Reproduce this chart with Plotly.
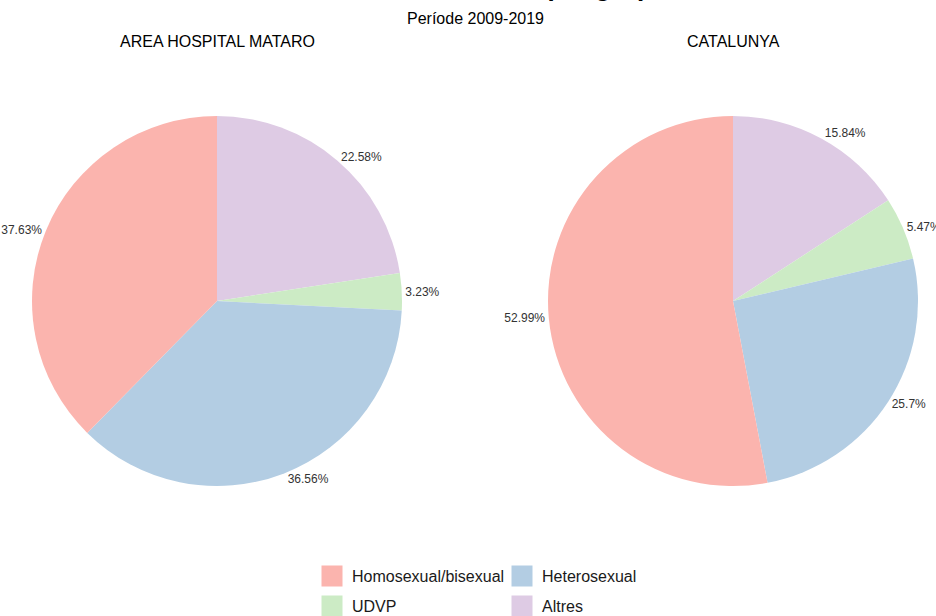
import plotly.graph_objects as go

# ---- data ----
categories = ["Homosexual/bisexual", "Heterosexual", "UDVP", "Altres"]
colors = ["#FBB4AE", "#B3CDE3", "#CCEBC5", "#DECBE4"]
mataro_values = [37.63, 36.56, 3.23, 22.58]
catalunya_values = [52.99, 25.7, 5.47, 15.84]
panel_titles = ["AREA HOSPITAL MATARO", "CATALUNYA"]
main_title = "Casos de VIH per grup de transmissió"
subtitle = "Període 2009-2019"

W, H = 936, 616
FONT = "Liberation Sans, Arial, sans-serif"


def fx(x):
    return x / W


def fy(y):
    return 1 - y / H


def fmt(v):
    s = f"{v:.2f}".rstrip("0").rstrip(".")
    return s + "%"


fig = go.Figure()

domains = [
    dict(x=[fx(32), fx(402)], y=[fy(486), fy(116)]),
    dict(x=[fx(548), fx(918)], y=[fy(486), fy(116)]),
]

for vals, dom in zip([mataro_values, catalunya_values], domains):
    fig.add_trace(go.Pie(
        labels=categories[::-1],
        values=vals[::-1],
        text=[fmt(v) for v in vals[::-1]],
        textinfo="text",
        textposition="outside",
        outsidetextfont=dict(size=12, color="#333333", family=FONT),
        marker=dict(colors=colors[::-1], line=dict(width=0)),
        sort=False,
        direction="clockwise",
        rotation=0,
        domain=dom,
        showlegend=False,
        hoverinfo="label+percent",
    ))

# legend entries (two rows, two columns)
legend_of = ["legend", "legend", "legend2", "legend2"]
for cat, col, lg in zip(categories, colors, legend_of):
    fig.add_trace(go.Scatter(
        x=[None], y=[None], mode="markers", name=cat,
        marker=dict(symbol="square", size=16, color=col, line=dict(color=col, width=5)),
        legend=lg, showlegend=True,
    ))

leg_common = dict(
    orientation="h", xanchor="left", yanchor="middle",
    x=fx(312), entrywidth=145, entrywidthmode="pixels",
    font=dict(size=16, color="#1a1a1a", family=FONT),
    bgcolor="rgba(0,0,0,0)", borderwidth=0,
)

fig.update_layout(
    width=W, height=H,
    margin=dict(l=0, r=0, t=0, b=0, autoexpand=False),
    paper_bgcolor="white", plot_bgcolor="white",
    font=dict(family=FONT, color="black"),
    xaxis=dict(visible=False), yaxis=dict(visible=False),
    legend=dict(y=fy(576), **leg_common),
    legend2=dict(y=fy(606), **leg_common),
    annotations=[
        dict(text="<b>" + main_title + "</b>", x=fx(372), y=fy(3.5), xref="paper", yref="paper",
             xanchor="left", yanchor="bottom", showarrow=False,
             font=dict(size=26, color="black", family=FONT)),
        dict(text=subtitle, x=fx(475), y=fy(18), xref="paper", yref="paper",
             xanchor="center", yanchor="middle", showarrow=False,
             font=dict(size=16, color="black", family=FONT)),
        dict(text=panel_titles[0], x=fx(217), y=fy(41), xref="paper", yref="paper",
             xanchor="center", yanchor="middle", showarrow=False,
             font=dict(size=16, color="black", family=FONT)),
        dict(text=panel_titles[1], x=fx(733), y=fy(41), xref="paper", yref="paper",
             xanchor="center", yanchor="middle", showarrow=False,
             font=dict(size=16, color="black", family=FONT)),
    ],
)

# remove the browser's default 8px body margin so the figure fills the window
fig.write_html(
    "out.html",
    config={"displayModeBar": False},
    post_script="document.body.style.margin='0';document.body.style.overflow='hidden';",
)
